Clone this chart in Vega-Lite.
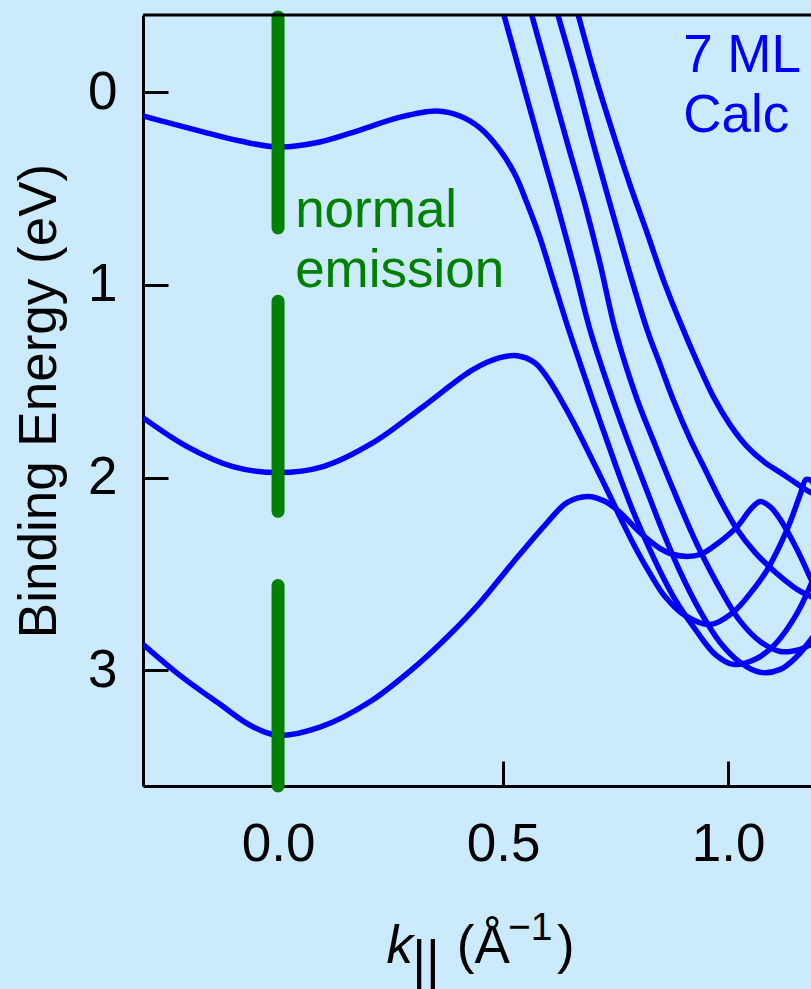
{
  "$schema": "https://vega.github.io/schema/vega-lite/v6.json",
  "width": 668,
  "height": 771,
  "autosize": {"type": "none"},
  "padding": {"left": 143, "top": 15, "right": 0, "bottom": 203},
  "background": "#cbebfc",
  "config": {
    "view": {"stroke": null},
    "font": "Liberation Sans",
    "axis": {
      "grid": false,
      "domainColor": "black",
      "domainWidth": 3,
      "tickColor": "black",
      "tickWidth": 3,
      "tickSize": -25,
      "labelColor": "black",
      "labelFontSize": 53,
      "titleColor": "black",
      "titleFontSize": 53,
      "titleFontWeight": "normal",
      "labelFont": "Liberation Sans",
      "titleFont": "Liberation Sans"
    }
  },
  "datasets": {
    "curves": [
      {"c": "A", "k": -0.3, "E": 0.124},
      {"c": "A", "k": -0.24, "E": 0.161},
      {"c": "A", "k": -0.173, "E": 0.202},
      {"c": "A", "k": -0.084, "E": 0.254},
      {"c": "A", "k": 0.0, "E": 0.285},
      {"c": "A", "k": 0.093, "E": 0.259},
      {"c": "A", "k": 0.182, "E": 0.197},
      {"c": "A", "k": 0.271, "E": 0.13},
      {"c": "A", "k": 0.353, "E": 0.098},
      {"c": "A", "k": 0.404, "E": 0.124},
      {"c": "A", "k": 0.449, "E": 0.187},
      {"c": "A", "k": 0.493, "E": 0.301},
      {"c": "A", "k": 0.527, "E": 0.43},
      {"c": "A", "k": 0.553, "E": 0.575},
      {"c": "A", "k": 0.582, "E": 0.756},
      {"c": "A", "k": 0.611, "E": 0.974},
      {"c": "A", "k": 0.644, "E": 1.22},
      {"c": "A", "k": 0.673, "E": 1.42},
      {"c": "A", "k": 0.7, "E": 1.605},
      {"c": "A", "k": 0.731, "E": 1.81},
      {"c": "A", "k": 0.76, "E": 2.0},
      {"c": "A", "k": 0.789, "E": 2.176},
      {"c": "A", "k": 0.816, "E": 2.321},
      {"c": "A", "k": 0.849, "E": 2.487},
      {"c": "A", "k": 0.882, "E": 2.632},
      {"c": "A", "k": 0.927, "E": 2.788},
      {"c": "A", "k": 0.971, "E": 2.917},
      {"c": "A", "k": 1.011, "E": 2.969},
      {"c": "A", "k": 1.06, "E": 2.943},
      {"c": "A", "k": 1.104, "E": 2.865},
      {"c": "A", "k": 1.149, "E": 2.72},
      {"c": "A", "k": 1.184, "E": 2.554},
      {"c": "A", "k": 1.216, "E": 2.347},

      {"c": "B", "k": -0.3, "E": 1.689},
      {"c": "B", "k": -0.202, "E": 1.839},
      {"c": "B", "k": -0.1, "E": 1.943},
      {"c": "B", "k": 0.0, "E": 1.974},
      {"c": "B", "k": 0.1, "E": 1.943},
      {"c": "B", "k": 0.211, "E": 1.819},
      {"c": "B", "k": 0.322, "E": 1.632},
      {"c": "B", "k": 0.433, "E": 1.44},
      {"c": "B", "k": 0.493, "E": 1.378},
      {"c": "B", "k": 0.531, "E": 1.368},
      {"c": "B", "k": 0.571, "E": 1.405},
      {"c": "B", "k": 0.598, "E": 1.48},
      {"c": "B", "k": 0.627, "E": 1.59},
      {"c": "B", "k": 0.656, "E": 1.712},
      {"c": "B", "k": 0.682, "E": 1.832},
      {"c": "B", "k": 0.709, "E": 1.959},
      {"c": "B", "k": 0.738, "E": 2.098},
      {"c": "B", "k": 0.764, "E": 2.225},
      {"c": "B", "k": 0.793, "E": 2.36},
      {"c": "B", "k": 0.827, "E": 2.5},
      {"c": "B", "k": 0.86, "E": 2.618},
      {"c": "B", "k": 0.904, "E": 2.715},
      {"c": "B", "k": 0.96, "E": 2.762},
      {"c": "B", "k": 1.011, "E": 2.699},
      {"c": "B", "k": 1.056, "E": 2.58},
      {"c": "B", "k": 1.087, "E": 2.477},
      {"c": "B", "k": 1.131, "E": 2.269},
      {"c": "B", "k": 1.16, "E": 2.088},
      {"c": "B", "k": 1.173, "E": 2.01},
      {"c": "B", "k": 1.184, "E": 2.016},
      {"c": "B", "k": 1.2, "E": 2.088},

      {"c": "C", "k": -0.3, "E": 2.865},
      {"c": "C", "k": -0.218, "E": 3.026},
      {"c": "C", "k": -0.129, "E": 3.176},
      {"c": "C", "k": -0.062, "E": 3.285},
      {"c": "C", "k": 0.0, "E": 3.337},
      {"c": "C", "k": 0.093, "E": 3.295},
      {"c": "C", "k": 0.204, "E": 3.163},
      {"c": "C", "k": 0.316, "E": 2.958},
      {"c": "C", "k": 0.382, "E": 2.813},
      {"c": "C", "k": 0.449, "E": 2.648},
      {"c": "C", "k": 0.522, "E": 2.44},
      {"c": "C", "k": 0.598, "E": 2.233},
      {"c": "C", "k": 0.642, "E": 2.13},
      {"c": "C", "k": 0.687, "E": 2.098},
      {"c": "C", "k": 0.727, "E": 2.124},
      {"c": "C", "k": 0.76, "E": 2.181},
      {"c": "C", "k": 0.804, "E": 2.285},
      {"c": "C", "k": 0.849, "E": 2.368},
      {"c": "C", "k": 0.878, "E": 2.399},
      {"c": "C", "k": 0.909, "E": 2.409},
      {"c": "C", "k": 0.938, "E": 2.399},
      {"c": "C", "k": 0.967, "E": 2.358},
      {"c": "C", "k": 1.02, "E": 2.254},
      {"c": "C", "k": 1.049, "E": 2.166},
      {"c": "C", "k": 1.071, "E": 2.124},
      {"c": "C", "k": 1.093, "E": 2.15},
      {"c": "C", "k": 1.116, "E": 2.218},
      {"c": "C", "k": 1.153, "E": 2.373},
      {"c": "C", "k": 1.184, "E": 2.528},
      {"c": "C", "k": 1.204, "E": 2.622},

      {"c": "L1", "k": 0.493, "E": -0.477},
      {"c": "L1", "k": 0.502, "E": -0.399},
      {"c": "L1", "k": 0.542, "E": -0.062},
      {"c": "L1", "k": 0.582, "E": 0.275},
      {"c": "L1", "k": 0.62, "E": 0.585},
      {"c": "L1", "k": 0.658, "E": 0.912},
      {"c": "L1", "k": 0.693, "E": 1.233},
      {"c": "L1", "k": 0.744, "E": 1.596},
      {"c": "L1", "k": 0.776, "E": 1.803},
      {"c": "L1", "k": 0.816, "E": 2.047},
      {"c": "L1", "k": 0.853, "E": 2.269},
      {"c": "L1", "k": 0.893, "E": 2.487},
      {"c": "L1", "k": 0.938, "E": 2.694},
      {"c": "L1", "k": 0.982, "E": 2.855},
      {"c": "L1", "k": 1.027, "E": 2.959},
      {"c": "L1", "k": 1.071, "E": 3.01},
      {"c": "L1", "k": 1.116, "E": 2.995},
      {"c": "L1", "k": 1.153, "E": 2.927},
      {"c": "L1", "k": 1.184, "E": 2.839},
      {"c": "L1", "k": 1.204, "E": 2.772},

      {"c": "L2", "k": 0.556, "E": -0.477},
      {"c": "L2", "k": 0.564, "E": -0.399},
      {"c": "L2", "k": 0.604, "E": -0.062},
      {"c": "L2", "k": 0.644, "E": 0.275},
      {"c": "L2", "k": 0.682, "E": 0.585},
      {"c": "L2", "k": 0.716, "E": 0.896},
      {"c": "L2", "k": 0.749, "E": 1.233},
      {"c": "L2", "k": 0.798, "E": 1.596},
      {"c": "L2", "k": 0.833, "E": 1.803},
      {"c": "L2", "k": 0.878, "E": 2.062},
      {"c": "L2", "k": 0.931, "E": 2.347},
      {"c": "L2", "k": 0.989, "E": 2.606},
      {"c": "L2", "k": 1.027, "E": 2.746},
      {"c": "L2", "k": 1.071, "E": 2.85},
      {"c": "L2", "k": 1.116, "E": 2.902},
      {"c": "L2", "k": 1.16, "E": 2.891},
      {"c": "L2", "k": 1.184, "E": 2.865},
      {"c": "L2", "k": 1.204, "E": 2.839},

      {"c": "L3", "k": 0.613, "E": -0.477},
      {"c": "L3", "k": 0.622, "E": -0.399},
      {"c": "L3", "k": 0.66, "E": -0.088},
      {"c": "L3", "k": 0.698, "E": 0.249},
      {"c": "L3", "k": 0.738, "E": 0.585},
      {"c": "L3", "k": 0.778, "E": 0.912},
      {"c": "L3", "k": 0.82, "E": 1.233},
      {"c": "L3", "k": 0.849, "E": 1.415},
      {"c": "L3", "k": 0.878, "E": 1.596},
      {"c": "L3", "k": 0.916, "E": 1.803},
      {"c": "L3", "k": 0.949, "E": 1.959},
      {"c": "L3", "k": 0.982, "E": 2.114},
      {"c": "L3", "k": 1.02, "E": 2.269},
      {"c": "L3", "k": 1.06, "E": 2.389},
      {"c": "L3", "k": 1.093, "E": 2.466},
      {"c": "L3", "k": 1.127, "E": 2.534},
      {"c": "L3", "k": 1.153, "E": 2.58},
      {"c": "L3", "k": 1.184, "E": 2.617},
      {"c": "L3", "k": 1.204, "E": 2.637},

      {"c": "L4", "k": 0.658, "E": -0.477},
      {"c": "L4", "k": 0.667, "E": -0.399},
      {"c": "L4", "k": 0.704, "E": -0.088},
      {"c": "L4", "k": 0.744, "E": 0.212},
      {"c": "L4", "k": 0.782, "E": 0.482},
      {"c": "L4", "k": 0.82, "E": 0.731},
      {"c": "L4", "k": 0.856, "E": 0.974},
      {"c": "L4", "k": 0.893, "E": 1.192},
      {"c": "L4", "k": 0.931, "E": 1.399},
      {"c": "L4", "k": 0.967, "E": 1.58},
      {"c": "L4", "k": 1.004, "E": 1.725},
      {"c": "L4", "k": 1.042, "E": 1.839},
      {"c": "L4", "k": 1.082, "E": 1.922},
      {"c": "L4", "k": 1.116, "E": 1.974},
      {"c": "L4", "k": 1.149, "E": 2.026},
      {"c": "L4", "k": 1.184, "E": 2.078},
      {"c": "L4", "k": 1.204, "E": 2.098}
    ],
    "segments": [
      {"from": -0.39, "to": 0.705},
      {"from": 1.085, "to": 2.175},
      {"from": 2.56, "to": 3.6}
    ]
  },
  "layer": [
    {
      "data": {"name": "curves"},
      "mark": {"type": "line", "color": "#0000ff", "strokeWidth": 5.5, "interpolate": "catmull-rom", "clip": true},
      "encoding": {
        "x": {
          "field": "k", "type": "quantitative",
          "scale": {"domain": [-0.3, 1.184], "nice": false, "zero": false},
          "axis": {"values": [0, 0.5, 1.0], "format": ".1f", "title": null, "labelPadding": 57}
        },
        "y": {
          "field": "E", "type": "quantitative",
          "scale": {"domain": [-0.4, 3.6], "nice": false, "zero": false, "reverse": true},
          "axis": {"values": [0, 1, 2, 3], "format": "d", "title": "Binding Energy (eV)", "labelPadding": 51, "titlePadding": 21}
        },
        "detail": {"field": "c"}
      }
    },
    {
      "data": {"name": "segments"},
      "mark": {"type": "rule", "color": "#008000", "strokeWidth": 13, "strokeCap": "round"},
      "encoding": {
        "x": {"datum": 0},
        "y": {"field": "from", "type": "quantitative"},
        "y2": {"field": "to"}
      }
    },
    {
      "data": {"values": [{}]},
      "mark": {"type": "rule", "color": "black", "strokeWidth": 3},
      "encoding": {
        "x": {"datum": -0.3},
        "x2": {"datum": 1.184},
        "y": {"datum": -0.4}
      }
    },
    {
      "data": {"values": [{}]},
      "mark": {"type": "text", "text": ["normal", "emission"], "color": "#008000", "fontSize": 53, "align": "left", "baseline": "alphabetic", "lineHeight": 60},
      "encoding": {"x": {"datum": 0.038}, "y": {"datum": 0.7}}
    },
    {
      "data": {"values": [{}]},
      "mark": {"type": "text", "text": ["7 ML", "Calc"], "color": "#0000ff", "fontSize": 53, "align": "left", "baseline": "alphabetic", "lineHeight": 60},
      "encoding": {"x": {"datum": 0.9}, "y": {"datum": -0.104}}
    },
    {
      "data": {"values": [{}]},
      "mark": {"type": "text", "text": "k", "fontStyle": "italic", "color": "black", "fontSize": 53, "align": "left", "baseline": "alphabetic"},
      "encoding": {"x": {"datum": 0.241}, "y": {"datum": 4.518}}
    },
    {
      "data": {"values": [{}]},
      "mark": {"type": "text", "text": "||", "color": "black", "fontSize": 53, "align": "left", "baseline": "alphabetic"},
      "encoding": {"x": {"datum": 0.298}, "y": {"datum": 4.596}}
    },
    {
      "data": {"values": [{}]},
      "mark": {"type": "text", "text": "(Å", "color": "black", "fontSize": 53, "align": "left", "baseline": "alphabetic"},
      "encoding": {"x": {"datum": 0.397}, "y": {"datum": 4.518}}
    },
    {
      "data": {"values": [{}]},
      "mark": {"type": "text", "text": "−1", "color": "black", "fontSize": 39, "align": "left", "baseline": "alphabetic"},
      "encoding": {"x": {"datum": 0.511}, "y": {"datum": 4.4}}
    },
    {
      "data": {"values": [{}]},
      "mark": {"type": "text", "text": ")", "color": "black", "fontSize": 53, "align": "left", "baseline": "alphabetic"},
      "encoding": {"x": {"datum": 0.62}, "y": {"datum": 4.518}}
    }
  ]
}
